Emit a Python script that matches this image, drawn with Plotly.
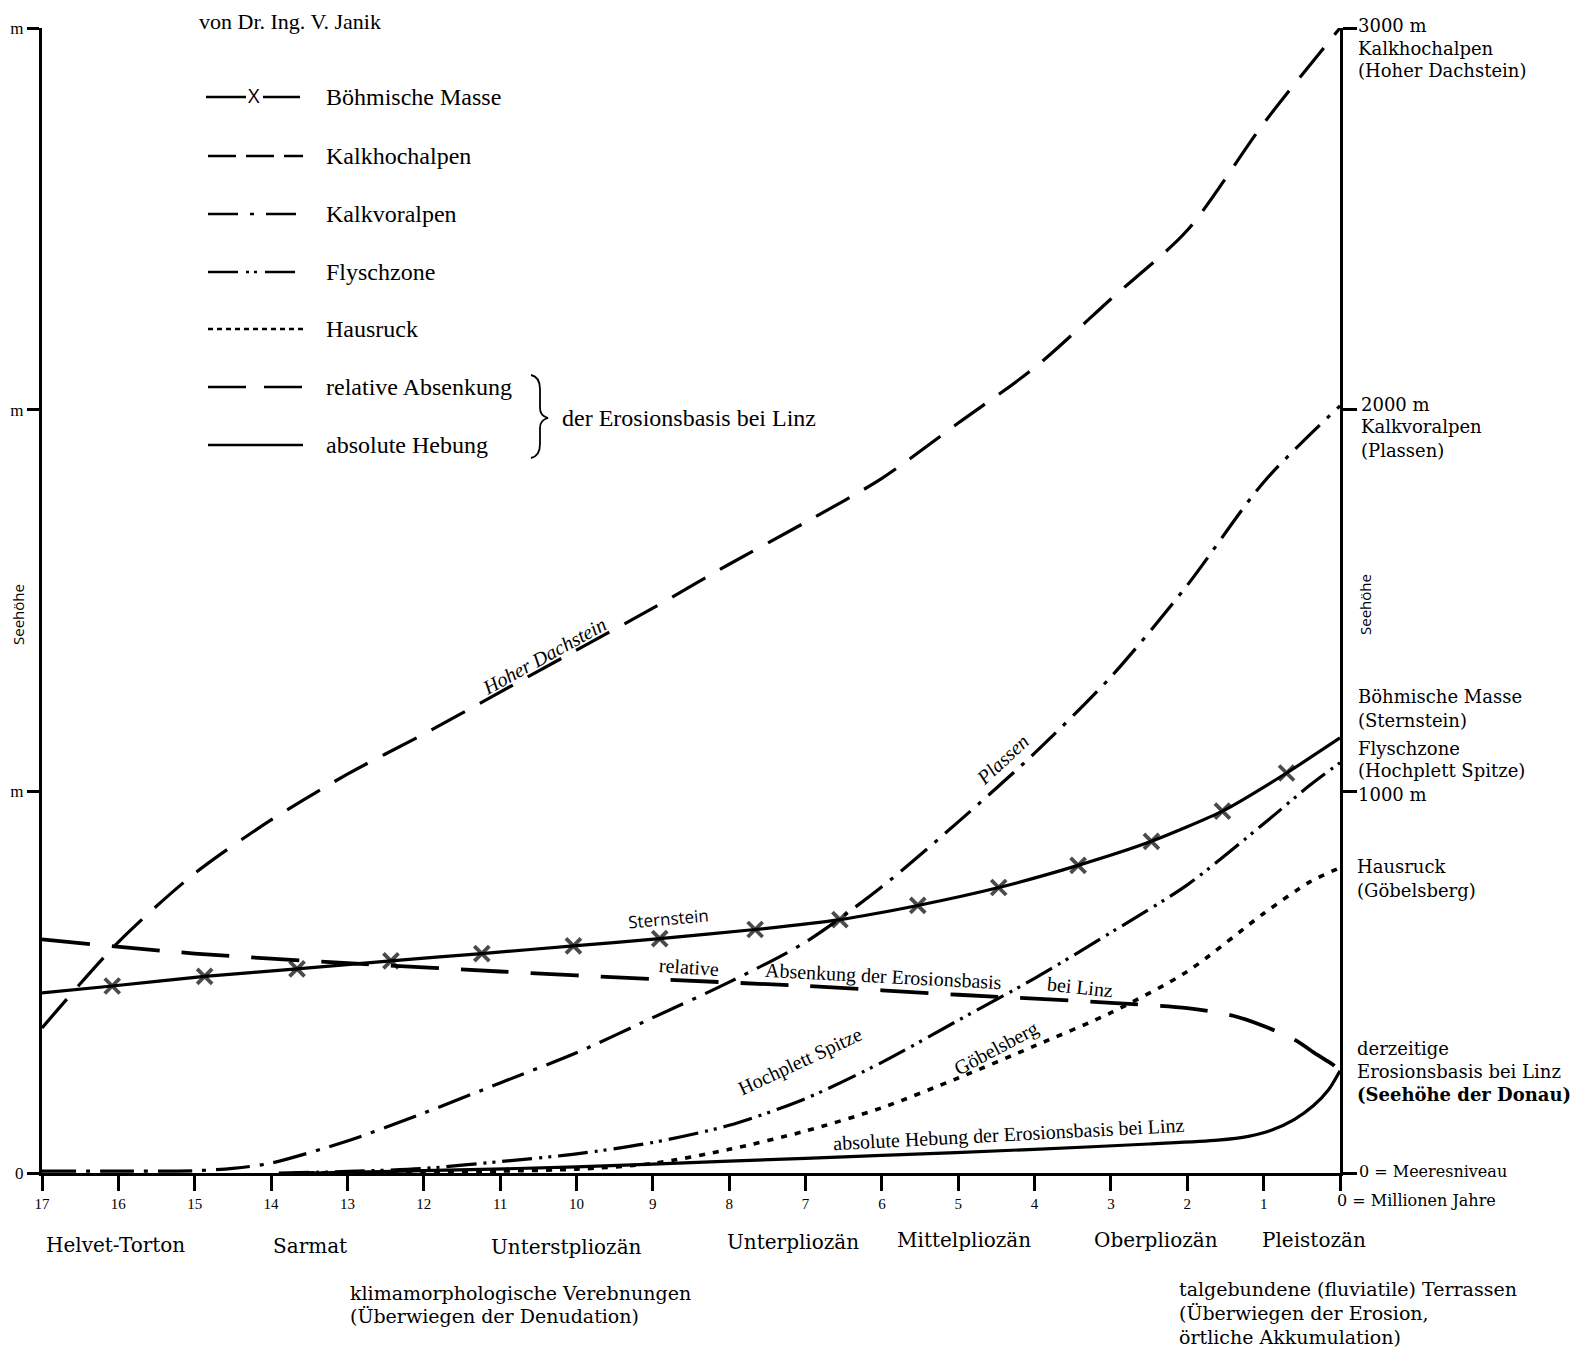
import plotly.graph_objects as go

# ---------------- data (million years before present, metres above sea level) -------------
hoch_x = [17, 16, 15, 14, 13, 12, 11, 10, 9, 8, 7, 6, 5, 4, 3, 2, 1, 0]
hoch_y = [380, 605, 785, 925, 1045, 1150, 1260, 1370, 1480, 1595, 1705, 1820, 1965, 2110, 2290, 2470, 2750, 3000]

boehm_x = [17, 16.08, 14.87, 13.66, 12.43, 11.24, 10.04, 8.91, 7.66, 6.55, 5.53, 4.47, 3.43, 2.47, 1.54, 0.70, 0]
boehm_y = [472, 490, 515, 535, 556, 575, 595, 614, 638, 664, 701, 748, 806, 869, 948, 1048, 1140]

voralp_x = [17, 16, 15, 14.5, 14, 13, 12, 11, 10, 9, 8, 7, 6, 5, 4, 3, 2, 1, 0]
voralp_y = [5, 5, 6, 12, 26, 84, 157, 236, 315, 407, 500, 605, 750, 920, 1100, 1300, 1540, 1810, 2010]

flysch_x = [13.9, 13, 12, 11, 10, 9, 8, 7, 6, 5, 4, 3, 2, 1, 0.4, 0]
flysch_y = [0, 4, 12, 30, 50, 80, 125, 195, 290, 400, 510, 630, 755, 915, 1015, 1075]

haus_x = [13.7, 12, 11, 10, 9, 8, 7, 6, 5, 4, 3, 2, 1, 0.4, 0]
haus_y = [0, 2, 5, 10, 25, 62, 110, 171, 249, 333, 420, 528, 680, 762, 800]

rel_x = [17, 15, 13, 11, 9, 7, 5, 3, 2, 1.4, 1, 0.6, 0.3, 0.1, 0]
rel_y = [612, 575, 550, 528, 508, 490, 467, 446, 432, 412, 385, 350, 310, 285, 268]

abs_x = [13.5, 13, 12, 10, 8, 6, 4, 2.5, 1.6, 1.2, 0.9, 0.6, 0.35, 0.15, 0]
abs_y = [0, 2, 6, 16, 31, 46, 62, 76, 86, 96, 112, 140, 176, 218, 268]

x_ticks = list(range(17, -1, -1))
x_ticktext = [str(v) for v in range(17, 0, -1)] + [""]
y_ticks = [0, 1000, 2000, 3000]
y_ticktext = ["0", "m", "m", "m"]

legend_names = ["Böhmische Masse", "Kalkhochalpen", "Kalkvoralpen", "Flyschzone",
                "Hausruck", "relative Absenkung", "absolute Hebung"]
era_labels = ["Helvet-Torton", "Sarmat", "Unterstpliozän", "Unterpliozän",
              "Mittelpliozän", "Oberpliozän", "Pleistozän"]

# ---------------- layout geometry -------------
W, H = 1585, 1353
ML, MR, MT, MB = 34, 253, 20, 188
PW, PH = W - ML - MR, H - MT - MB


def px(xp):
    return (xp - ML) / PW


def py(yp):
    return (H - MB - yp) / PH


SERIF = "Liberation Serif"
WIDE = "DejaVu Serif"
SANS = "Open Sans"
K = "black"

fig = go.Figure()


def curve(x, y, dash, width=3.2, name=None):
    fig.add_trace(go.Scatter(x=x, y=y, mode="lines", line=dict(color=K, width=width, dash=dash,
                                                               shape="spline", smoothing=0.8),
                             cliponaxis=False, showlegend=False, hoverinfo="skip", name=name))


curve(hoch_x, hoch_y, "38px,17px", name="Kalkhochalpen")
curve(voralp_x, voralp_y, "34px,10px,4px,10px", name="Kalkvoralpen")
curve(flysch_x, flysch_y, "30px,7px,3px,6px,3px,7px", name="Flyschzone")
curve(haus_x, haus_y, "6px,8px", width=3.6, name="Hausruck")
curve(rel_x, rel_y, "48px,22px", width=3.8, name="relative Absenkung")
curve(abs_x, abs_y, "solid", width=3.2, name="absolute Hebung")

msize = [0] + [15] * (len(boehm_x) - 2) + [0]
fig.add_trace(go.Scatter(x=boehm_x, y=boehm_y, mode="lines+markers",
                         line=dict(color=K, width=3.2, shape="spline", smoothing=0.6),
                         marker=dict(symbol="x-thin", size=msize, line=dict(color=K, width=3.8)),
                         cliponaxis=False, showlegend=False, hoverinfo="skip", name="Böhmische Masse"))

# right axis carrier
fig.add_trace(go.Scatter(x=[0], y=[0], yaxis="y2", mode="markers", marker=dict(opacity=0),
                         showlegend=False, hoverinfo="skip"))

ann = []


def text(xp, yp, t, size=21, xa="left", ya="middle", font=SERIF, angle=0):
    ann.append(dict(x=px(xp), y=py(yp), xref="paper", yref="paper", text=t, showarrow=False,
                    xanchor=xa, yanchor=ya, textangle=angle, align="left", borderpad=0,
                    font=dict(family=font, size=size, color=K)))


def lines(xp, y_list, t_list, size=18):
    for yy, tt in zip(y_list, t_list):
        text(xp, yy, tt, size=size, font=WIDE)


# title remnant at top edge
text(282, 0, "von Dr. Ing. V. Janik", size=22, xa="center", ya="top")

# legend
rows = [89, 148, 206, 264, 321, 379, 437]
dashes = [None, "28px,10px", "30px,12px,4px,12px", "30px,8px,3px,5px,3px,8px",
          "5px,4px", "38px,18px", "solid"]
shapes = []
for i, (yy, nm) in enumerate(zip(rows, legend_names)):
    if i == 0:
        for a, b in [(198, 238), (255, 292)]:
            shapes.append(dict(type="line", xref="paper", yref="paper", x0=px(a), x1=px(b),
                               y0=py(yy), y1=py(yy), line=dict(color=K, width=2.6)))
        text(246, yy - 2, "X", size=20, xa="center", font=SANS)
    else:
        shapes.append(dict(type="line", xref="paper", yref="paper", x0=px(200), x1=px(295),
                           y0=py(yy), y1=py(yy), line=dict(color=K, width=2.6, dash=dashes[i])))
    text(317, yy, nm, size=24)

# brace
bx, by0, by1, bym, tip = 523, 367, 450, 410, 540
brace = (f"M {px(bx)},{py(by0)} Q {px(bx+9)},{py(by0+2)} {px(bx+9)},{py(by0+14)} "
         f"L {px(bx+9)},{py(bym-10)} Q {px(bx+9)},{py(bym-2)} {px(tip)},{py(bym)} "
         f"Q {px(bx+9)},{py(bym+2)} {px(bx+9)},{py(bym+10)} "
         f"L {px(bx+9)},{py(by1-14)} Q {px(bx+9)},{py(by1-2)} {px(bx)},{py(by1)}")
shapes.append(dict(type="path", xref="paper", yref="paper", path=brace,
                   line=dict(color=K, width=1.8)))
text(553, 410, "der Erosionsbasis bei Linz", size=24)

# curve labels
text(536, 648, "<i>Hoher Dachstein</i>", size=20, xa="center", angle=-29)
text(994, 752, "<i>Plassen</i>", size=20, xa="center", angle=-43)
text(660, 910, "Sternstein", size=17, xa="center", font=SANS, angle=-5)
text(681, 959, "relative", size=20, xa="center", angle=4)
text(876, 968, "Absenkung der Erosionsbasis", size=20, xa="center", angle=3)
text(1072, 979, "bei Linz", size=20, xa="center", angle=6)
text(792, 1053, "Hochplett Spitze", size=20, xa="center", angle=-25)
text(988, 1040, "Göbelsberg", size=20, xa="center", angle=-28)
text(1001, 1126, "absolute Hebung der Erosionsbasis bei Linz", size=20, xa="center", angle=-3)

# right side labels
lines(1349, [17, 40, 63], ["3000 m", "Kalkhochalpen", "(Hoher Dachstein)"])
lines(1352, [396, 419, 442], ["2000 m", "Kalkvoralpen", "(Plassen)"])
lines(1349, [688, 712], ["Böhmische Masse", "(Sternstein)"])
lines(1349, [740, 763, 786], ["Flyschzone", "(Hochplett Spitze)", "1000 m"])
lines(1348, [858, 882], ["Hausruck", "(Göbelsberg)"])
lines(1348, [1040, 1063, 1086], ["derzeitige", "Erosionsbasis bei Linz", "<b>(Seehöhe der Donau)</b>"])
text(1350, 1163, "0 = Meeresniveau", size=16, font=WIDE)
text(1328, 1192, "0 = Millionen Jahre", size=16, font=WIDE)

# Seehöhe axis titles
text(10, 606, "Seehöhe", size=15, xa="center", font=SANS, angle=-90)
text(1357, 597, "Seehöhe", size=15, xa="center", font=SANS, angle=-90)

# era labels
era_pos = [(107, 1237), (302, 1238), (558, 1239), (785, 1234), (956, 1232), (1148, 1232), (1306, 1232)]
for (xx, yy), lab in zip(era_pos, era_labels):
    text(xx, yy, lab, size=20, xa="center", font=WIDE)

lines(341, [1285, 1308], ["klimamorphologische Verebnungen", "(Überwiegen der Denudation)"], size=19)
lines(1170, [1281, 1305, 1329], ["talgebundene (fluviatile) Terrassen", "(Überwiegen der Erosion,",
                                 "örtliche Akkumulation)"], size=19)

fig.update_layout(
    width=W, height=H,
    margin=dict(l=ML, r=MR, t=MT, b=MB, autoexpand=False),
    paper_bgcolor="white", plot_bgcolor="white",
    showlegend=False,
    xaxis=dict(range=[17, 0], tickvals=x_ticks, ticktext=x_ticktext, showgrid=False, zeroline=False,
               showline=True, linecolor=K, linewidth=3, ticks="outside", ticklen=15, tickwidth=2.5,
               tickcolor=K, tickfont=dict(family=SERIF, size=15, color=K), fixedrange=True),
    yaxis=dict(range=[0, 3000], tickvals=y_ticks, ticktext=y_ticktext, showgrid=False, zeroline=False,
               showline=True, linecolor=K, linewidth=3, ticks="outside", ticklen=12, tickwidth=3,
               tickcolor=K, tickfont=dict(family=SERIF, size=17, color=K), automargin=False,
               fixedrange=True),
    yaxis2=dict(range=[0, 3000], overlaying="y", side="right", tickvals=y_ticks, showticklabels=False,
                showgrid=False, zeroline=False, showline=True, linecolor=K, linewidth=3,
                ticks="outside", ticklen=14, tickwidth=3, tickcolor=K, fixedrange=True),
    annotations=ann,
    shapes=shapes,
)

fig.write_html("out.html")
